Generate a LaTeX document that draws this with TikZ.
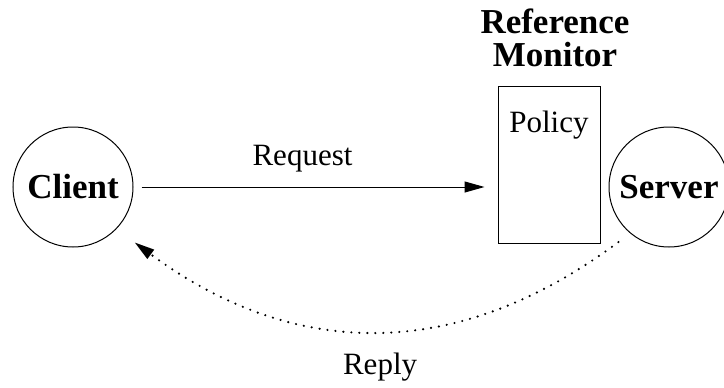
\documentclass[tikz,border=0pt]{standalone}
\usepackage{fontspec}
\setmainfont{Liberation Serif}
\usetikzlibrary{arrows.meta,positioning}
\tikzset{
  party/.style={draw, circle, line width=0.5pt, inner sep=0pt, minimum size=60pt,
    font=\bfseries\fontsize{17.5}{20}\selectfont},
  monitorbox/.style={draw, rectangle, line width=0.5pt, minimum width=51pt, minimum height=78.5pt},
  msg/.style={font=\fontsize{15.5}{18}\selectfont},
  flow/.style={line width=0.5pt, -{Triangle[length=10pt,width=5.5pt]}},
}
\begin{document}
\begin{tikzpicture}[x=0.5pt, y=0.5pt]
 % page frame
                \useasboundingbox (0,0) rectangle (724,387);
                % the two parties
                \node (client) [party] at (73,200) {Client};
                \node (server) [party] at (669,200) {Server};
                % reference monitor with its policy
                \node (monitor) [monitorbox] at (549,222.5) {};
                \node (policy) [msg, below=9pt of monitor.north] {Policy};
                \node (title) [above=6pt of monitor.north, xshift=3pt, align=center,
                  font=\bfseries\fontsize{17.5}{16.5}\selectfont] {Reference\\Monitor};
                % request goes in
                \draw [flow, shorten <=4pt, shorten >=6.5pt] (client.east) --  node [msg, above=4pt, xshift=-6.5pt] (request) {Request} (client.east -| monitor.west);
                % reply comes back
                \draw [flow, line cap=round, dash pattern=on 0pt off 4pt, line width=1.2pt, shorten <=7.3pt, shorten >=11.3pt]
                  (server.230) .. controls +(-171.7,-128) and +(179.1,-132.3) .. node [msg, midway, below=8pt, xshift=2pt] (reply) {Reply} (client.-44);
\end{tikzpicture}
\end{document}
